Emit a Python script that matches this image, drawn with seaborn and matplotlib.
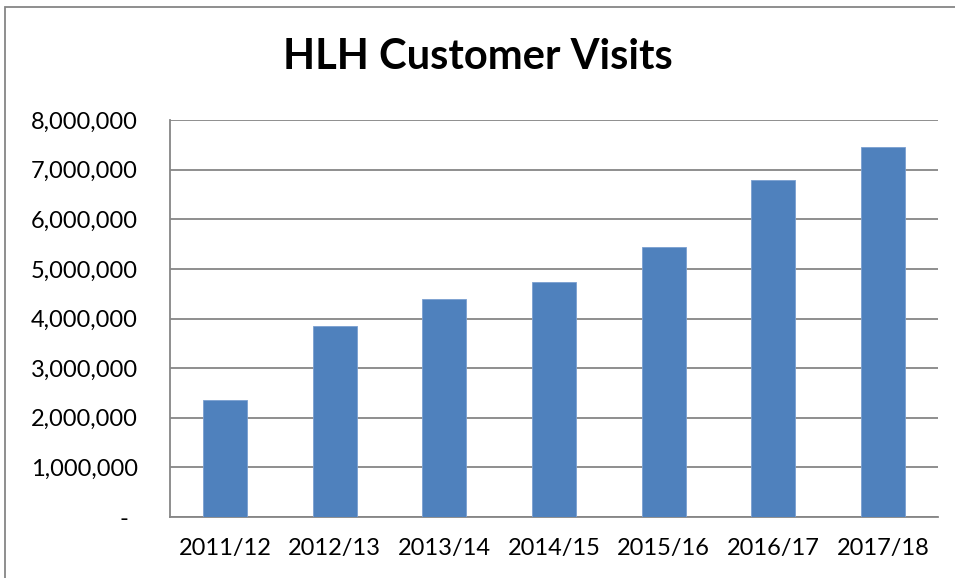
import matplotlib
matplotlib.use("Agg")
import matplotlib.pyplot as plt
import matplotlib.transforms as mtransforms
import seaborn as sns
import pandas as pd
from matplotlib.patches import Rectangle
from matplotlib.ticker import FuncFormatter

years = ["2011/12", "2012/13", "2013/14", "2014/15", "2015/16", "2016/17", "2017/18"]
visits = [2360000, 3850000, 4390000, 4740000, 5450000, 6800000, 7460000]
yticks = [0, 1000000, 2000000, 3000000, 4000000, 5000000, 6000000, 7000000, 8000000]

sns.set_theme(style="white")
plt.rcParams['font.family'] = ['Lato', 'DejaVu Sans']

df = pd.DataFrame({"year": years, "visits": visits})

fig = plt.figure(figsize=(9.55, 5.78), dpi=100)
ax = fig.add_axes([170/955, 61/578, 768/955, 397/578])

sns.barplot(data=df, x="year", y="visits", color="#4F81BD", saturation=1,
            width=0.4, ax=ax, zorder=3, edgecolor="#7A9FD0", linewidth=0.6)

ax.set_ylim(0, 8000000)
ax.set_xlim(-0.5, len(years) - 0.5)
ax.set_yticks(yticks)
ax.yaxis.set_major_formatter(FuncFormatter(lambda v, p: "-" if v == 0 else f"{int(v):,}"))
ax.grid(axis="y", color="#868686", linewidth=1.3, zorder=0)
ax.set_axisbelow(True)
for s in ["top", "right"]:
    ax.spines[s].set_visible(False)
for s in ["left", "bottom"]:
    ax.spines[s].set_color("#868686")
    ax.spines[s].set_linewidth(1.3)
ax.set_xlabel("")
ax.set_ylabel("")
ax.tick_params(axis="both", length=0, labelsize=17, colors="black")
ax.tick_params(axis="y", pad=23)
ax.tick_params(axis="x", pad=15)

# accounting-style zero dash sits a bit left of the right-aligned numbers
zero_lbl = ax.yaxis.get_major_ticks()[0].label1
zero_lbl.set_transform(zero_lbl.get_transform() +
                       mtransforms.ScaledTranslation(-10/100, 0, fig.dpi_scale_trans))

fig.text(0.5, 1 - 57/578, "HLH Customer Visits", ha="center", va="center",
         fontsize=30, fontweight="bold", color="black")

fig.patches.append(Rectangle((5/955, -0.1), 1.2, 1 - 7/578 + 0.1,
                             transform=fig.transFigure, fill=False,
                             edgecolor="#868686", linewidth=1.3))

fig.savefig("out.png", dpi=100, facecolor="white")
